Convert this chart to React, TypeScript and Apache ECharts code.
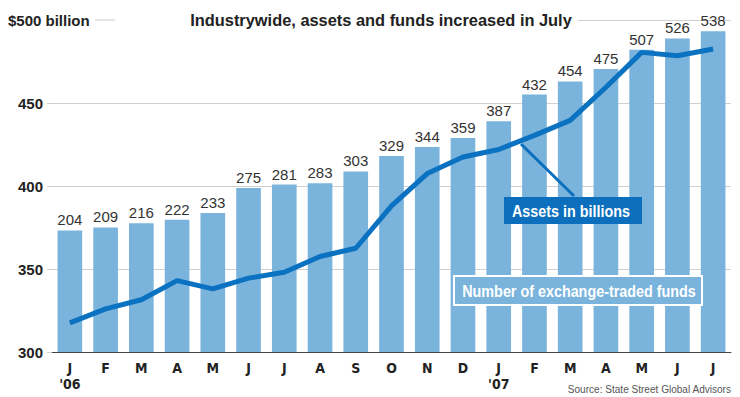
import React, { useEffect, useRef } from "react";
import * as echarts from "echarts";

const categories = ["J\n'06", "F", "M", "A", "M", "J", "J", "A", "S", "O", "N", "D", "J\n'07", "F", "M", "A", "M", "J", "J"];
const fundCounts = [204, 209, 216, 222, 233, 275, 281, 283, 303, 329, 344, 359, 387, 432, 454, 475, 507, 526, 538];
const assetsBillions = [317.5, 326, 331.5, 343, 338, 344.5, 348, 357.5, 362.5, 388, 407.5, 417.5, 422, 430.5, 439.5, 459.5, 480.5, 478.5, 482.5];

const COND = "'DejaVu Sans Condensed', 'Liberation Sans', sans-serif";
const SANS = "'Liberation Sans', Arial, sans-serif";
const BAR = "#7ab4dc";
const LINE = "#0a72c0";
const BOX = "#0b6fbd";

export default function App() {
  const ref = useRef<HTMLDivElement>(null);
  useEffect(() => {
    if (!ref.current) return;
    const chart = echarts.init(ref.current, null, { renderer: "svg" });
    chart.setOption({
      animation: false,
      backgroundColor: "#fff",
      grid: { left: 52, right: 9, top: 20, bottom: 45 },
      xAxis: {
        type: "category",
        data: categories,
        axisLine: { lineStyle: { color: "#444", width: 1 } },
        axisTick: { show: false },
        axisLabel: {
          color: "#222",
          fontFamily: COND,
          fontWeight: "bold",
          fontSize: 14,
          margin: 8,
          lineHeight: 16,
        },
      },
      yAxis: [
        {
          type: "value",
          min: 300,
          max: 500,
          interval: 50,
          axisLine: { show: false },
          axisTick: { show: true, length: 5, lineStyle: { color: "#ccc" } },
          splitLine: { lineStyle: { color: "#d0d0d0", width: 1 } },
          axisLabel: {
            color: "#222",
            fontFamily: SANS,
            fontWeight: "bold",
            fontSize: 15,
            margin: 9,
            formatter: (v: number) => (v === 500 ? "" : String(v)),
          },
        },
        {
          type: "value",
          min: 0,
          max: 557,
          show: false,
          splitLine: { show: false },
        },
      ],
      series: [
        {
          type: "bar",
          yAxisIndex: 1,
          data: fundCounts,
          barCategoryGap: "31%",
          itemStyle: { color: BAR },
          label: {
            show: true,
            position: "top",
            distance: 3,
            color: "#333",
            fontFamily: SANS,
            fontSize: 15,
          },
          z: 2,
        },
        {
          type: "line",
          yAxisIndex: 0,
          data: assetsBillions,
          symbol: "none",
          lineStyle: { color: LINE, width: 5 },
          z: 3,
        },
      ],
      graphic: [
        { type: "rect", shape: { x: 0, y: 11, width: 578, height: 18 }, style: { fill: "#fff" }, z: 10 },
        {
          type: "text",
          x: 8,
          y: 20,
          style: { text: "$500 billion", fill: "#222", font: `bold 15px ${SANS}`, textVerticalAlign: "middle" },
          z: 11,
        },
        { type: "line", shape: { x1: 95, y1: 20, x2: 115, y2: 20 }, style: { stroke: "#ccc", lineWidth: 1 }, z: 11 },
        {
          type: "text",
          x: 381,
          y: 20,
          scaleX: 0.965,
          style: {
            text: "Industrywide, assets and funds increased in July",
            fill: "#222",
            font: `bold 17px ${SANS}`,
            textAlign: "center",
            textVerticalAlign: "middle",
          },
          z: 11,
        },
        { type: "line", shape: { x1: 521, y1: 144, x2: 574, y2: 196 }, style: { stroke: BOX, lineWidth: 3 }, z: 10 },
        { type: "rect", shape: { x: 504, y: 197, width: 138, height: 27 }, style: { fill: BOX }, z: 10 },
        {
          type: "text",
          x: 571,
          y: 211,
          scaleX: 0.87,
          style: { text: "Assets in billions", fill: "#fff", font: `bold 16.5px ${SANS}`, textAlign: "center", textVerticalAlign: "middle" },
          z: 11,
        },
        { type: "rect", shape: { x: 454, y: 276, width: 248, height: 29 }, style: { fill: BAR, stroke: "#fff", lineWidth: 2 }, z: 10 },
        {
          type: "text",
          x: 579,
          y: 291,
          scaleX: 0.87,
          style: { text: "Number of exchange-traded funds", fill: "#fff", font: `bold 16.5px ${SANS}`, textAlign: "center", textVerticalAlign: "middle" },
          z: 11,
        },
        {
          type: "text",
          x: 731,
          y: 389,
          scaleX: 0.875,
          style: { text: "Source: State Street Global Advisors", fill: "#555", font: `11.5px ${SANS}`, textAlign: "right", textVerticalAlign: "middle" },
          z: 11,
        },
      ],
    });
    return () => chart.dispose();
  }, []);
  return <div ref={ref} style={{ width: 740, height: 397, position: "absolute", left: 0, top: 0 }} />;
}
